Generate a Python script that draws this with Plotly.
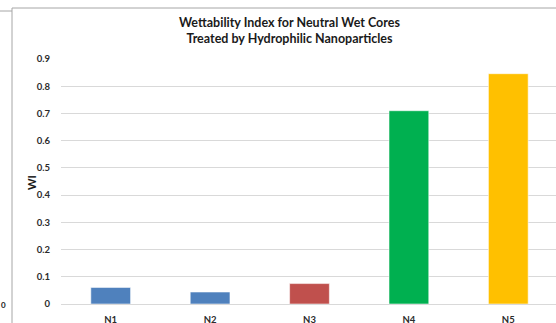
import plotly.graph_objects as go

# Wettability index measured for each neutral-wet core
cores = ["N1", "N2", "N3", "N4", "N5"]
wi_values = [0.061, 0.044, 0.075, 0.710, 0.846]
bar_colors = ["#4F81BD", "#4F81BD", "#C0504D", "#00B050", "#FFC000"]
y_ticks = [0, 0.1, 0.2, 0.3, 0.4, 0.5, 0.6, 0.7, 0.8, 0.9]
y_tick_text = ["0", "0.1", "0.2", "0.3", "0.4", "0.5", "0.6", "0.7", "0.8", "0.9"]

W, H = 556, 323
ML, MR, MT, MB = 61, 0, 59, 19
PW, PH = W - ML - MR, H - MT - MB


def px_x(px):
    return (px - ML) / PW


def px_y(py):
    return (H - MB - py) / PH


FONT = "Lato, 'Open Sans', sans-serif"

fig = go.Figure(
    go.Bar(
        x=cores,
        y=wi_values,
        marker=dict(color=bar_colors, line=dict(color="rgba(255,255,255,0.55)", width=1)),
        width=0.4,
        hoverinfo="x+y",
    )
)

fig.update_layout(
    width=W,
    height=H,
    margin=dict(l=ML, r=MR, t=MT, b=MB, pad=0, autoexpand=False),
    paper_bgcolor="white",
    plot_bgcolor="white",
    showlegend=False,
    font=dict(family=FONT, color="#333333"),
)

fig.update_xaxes(
    range=[-0.5, 4.48],
    automargin=False,
    showgrid=False,
    showline=False,
    ticks="",
    tickfont=dict(size=9.5, color="#2b2b2b", family=FONT, weight="bold"),
    ticklabelstandoff=8,
)

fig.update_yaxes(
    range=[0, 0.9],
    automargin=False,
    tickvals=y_ticks,
    ticktext=y_tick_text,
    showgrid=True,
    gridcolor="#D9D9D9",
    gridwidth=1,
    zeroline=True,
    zerolinecolor="#D9D9D9",
    zerolinewidth=1,
    showline=False,
    ticks="",
    tickfont=dict(size=9.5, color="#2b2b2b", family=FONT, weight="bold"),
    ticklabelstandoff=10,
)

# Chart title
fig.add_annotation(
    x=px_x(289), y=px_y(31), xref="paper", yref="paper",
    text="<b>Wettability Index for Neutral Wet Cores<br>Treated by Hydrophilic Nanoparticles</b>",
    showarrow=False, xanchor="center", yanchor="middle",
    font=dict(size=12.5, color="#1a1a1a", family=FONT),
    align="center",
)

# Y axis title
fig.add_annotation(
    x=px_x(31), y=px_y(183), xref="paper", yref="paper",
    text="<b>WI</b>", textangle=-90, showarrow=False,
    xanchor="center", yanchor="middle",
    font=dict(size=11, color="#1a1a1a", family=FONT),
)

# Label from the neighbouring panel at the left edge
fig.add_annotation(
    x=px_x(0), y=px_y(305), xref="paper", yref="paper",
    text="<b>0</b>", showarrow=False, xanchor="left", yanchor="middle",
    font=dict(size=8, color="#1a1a1a", family=FONT),
    xshift=-1,
)

# Chart frame lines
frame = "#A6A6A6"
fig.add_shape(type="line", xref="paper", yref="paper",
              x0=px_x(12), x1=px_x(W + 2), y0=px_y(8), y1=px_y(8),
              line=dict(color=frame, width=1))
fig.add_shape(type="line", xref="paper", yref="paper",
              x0=px_x(12), x1=px_x(12), y0=px_y(8), y1=px_y(H + 2),
              line=dict(color=frame, width=1))
fig.add_shape(type="line", xref="paper", yref="paper",
              x0=px_x(-2), x1=px_x(12), y0=px_y(11), y1=px_y(11),
              line=dict(color=frame, width=1))

fig.write_html("out.html")
